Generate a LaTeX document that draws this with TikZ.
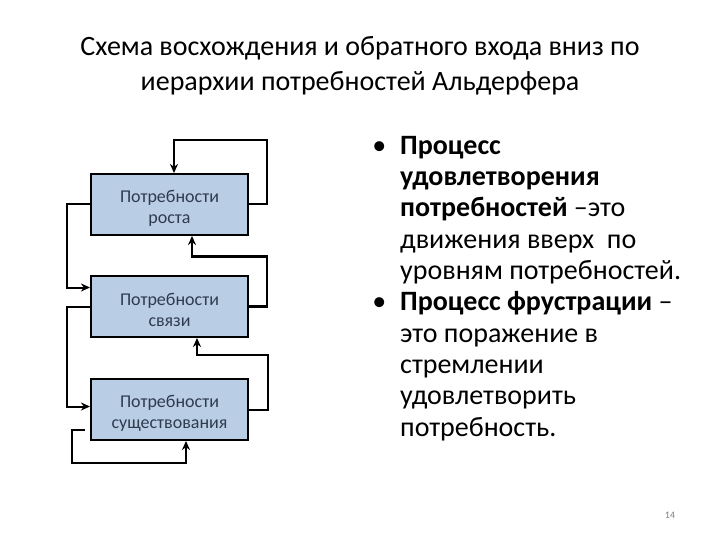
\documentclass[tikz,border=0pt]{standalone}
\usepackage{fontspec}
\setmainfont{Carlito}
\usepackage{tikz}
\usetikzlibrary{arrows.meta,positioning,calc}
\definecolor{needfill}{HTML}{B9CDE5}
\definecolor{needtext}{HTML}{2F3B4E}
\tikzset{
  need/.style={draw,line width=1.8pt,fill=needfill,text=needtext,minimum width=157.2pt,minimum height=61.2pt,inner sep=0pt,align=center,font=\fontsize{18}{21}\selectfont},
  arr/.style={-{Stealth[length=9pt,width=8pt]},line width=2pt},
  ttl/.style={align=center,font=\fontsize{28}{35}\selectfont},
  txt/.style={align=left,inner sep=0pt,font=\fontsize{28}{31.3}\selectfont},
}
\newcommand{\bul}{\llap{\textbullet\hspace{14pt}}}
\newcommand{\dn}{\rule{0pt}{20pt}}
\begin{document}
\begin{tikzpicture}[x=1pt,y=-1pt]
 \useasboundingbox (0,0) rectangle (720,540);
 \node[ttl] (title) at (360,66) {Схема восхождения и обратного входа вниз по\\иерархии потребностей Альдерфера};
 % three levels of needs
 \node[need] (grow) at (169.5,204.5) {\dn Потребности\\роста};
 \node[need,below=39pt of grow] (rel) {\dn Потребности\\связи};
 \node[need,below=40pt of rel] (exist) {\dn Потребности\\существования};
 % feedback loops on the right: upward
 \draw[arr] (grow.east) -- ++(18,0) -- ++(0,-64) -| ([xshift=4.5pt]grow.north);
 \draw[arr,line width=2.6pt] (rel.east) -- ++(18,0) -- ++(0,-50) -| ([xshift=22.5pt]grow.south);
 \draw[arr] (exist.east) -- ++(19,0) -- ++(0,-55) -| ([xshift=27.5pt]rel.south);
 % loops on the left: downward
 \draw[arr] (grow.west) -- ++(-23,0) |- ([yshift=19pt]rel.west);
 \draw[arr] (rel.west) -- ++(-23,0) |- ([yshift=3pt]exist.west);
 \draw[arr] ([xshift=-5pt,yshift=-20pt]exist.west) -- ++(-13,0) -- ++(0,33) -| ([xshift=16.5pt]exist.south);
 % text on the right
 \node[txt,anchor=north west] (notes) at (400,136) {\bul\textbf{Процесс}\\
  \textbf{удовлетворения}\\
  \textbf{потребностей} –это\\
  движения вверх\ \ по\\
  уровням потребностей.\\
  \bul\textbf{Процесс фрустрации} –\\
  это поражение в\\
  стремлении\\
  удовлетворить\\
  потребность.};
 \node[text=gray,font=\fontsize{10}{12}\selectfont] (pg) at (670,515) {14};
\end{tikzpicture}
\end{document}
